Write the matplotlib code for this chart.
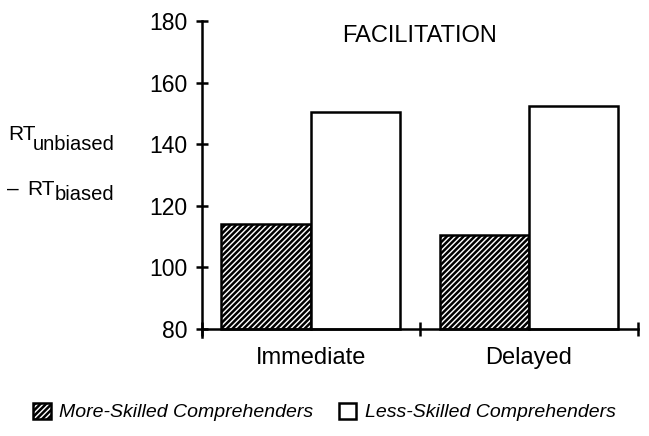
import matplotlib.pyplot as plt
import numpy as np

plt.rcParams['font.family'] = ['Liberation Sans', 'DejaVu Sans']
plt.rcParams['hatch.linewidth'] = 1.8

# Data
groups = ["Immediate", "Delayed"]
more_skilled = [114, 110.5]
less_skilled = [150.5, 152.5]
base = 80

x = np.array([0.5, 1.5])
w = 0.41

fig = plt.figure(figsize=(6.49, 4.36), dpi=100)
ax = fig.add_axes([0.311, 0.2271, 0.983 - 0.311, 0.9518 - 0.2271])

b1 = ax.bar(x - w / 2, np.array(more_skilled) - base, w, bottom=base,
            facecolor='white', edgecolor='black', hatch='//////', linewidth=1.8,
            label='More-Skilled Comprehenders')
b2 = ax.bar(x + w / 2, np.array(less_skilled) - base, w, bottom=base,
            facecolor='white', edgecolor='black', linewidth=1.8,
            label='Less-Skilled Comprehenders')

ax.set_xlim(0, 2)
ax.set_ylim(77.4, 180)
ax.spines['top'].set_visible(False)
ax.spines['right'].set_visible(False)
ax.spines['bottom'].set_position(('data', base))
ax.spines['left'].set_linewidth(1.8)
ax.spines['bottom'].set_linewidth(1.8)

ax.set_yticks([80, 100, 120, 140, 160, 180])
ax.tick_params(axis='y', direction='inout', length=9, width=1.8, pad=6, labelsize=16.5)
ax.set_xticks([0, 1, 2])
ax.set_xticklabels(['', '', ''])
ax.tick_params(axis='x', which='major', direction='inout', length=10, width=1.8)
ax.set_xticks(x, minor=True)
ax.set_xticklabels(groups, minor=True)
ax.tick_params(axis='x', which='minor', length=0, pad=13, labelsize=17)

ax.text(1, 175, 'FACILITATION', ha='center', va='center', fontsize=17)

# y label pieces
fig.text(8 / 649, 1 - 140 / 436, 'RT', fontsize=15, va='baseline')
fig.text(33 / 649, 1 - 150 / 436, 'unbiased', fontsize=14.5, va='baseline')
fig.text(7 / 649, 1 - 195 / 436, '\u2013', fontsize=15, va='baseline')
fig.text(27 / 649, 1 - 195 / 436, 'RT', fontsize=15, va='baseline')
fig.text(55 / 649, 1 - 200 / 436, 'biased', fontsize=14.5, va='baseline')

fig.legend(handles=[b1, b2], loc='center', bbox_to_anchor=(0.50, 0.055), ncol=2,
           frameon=False, handlelength=0.9, handleheight=0.9, handletextpad=0.45,
           columnspacing=1.3, prop={'style': 'italic', 'size': 14})

fig.savefig('out.png', dpi=100)
